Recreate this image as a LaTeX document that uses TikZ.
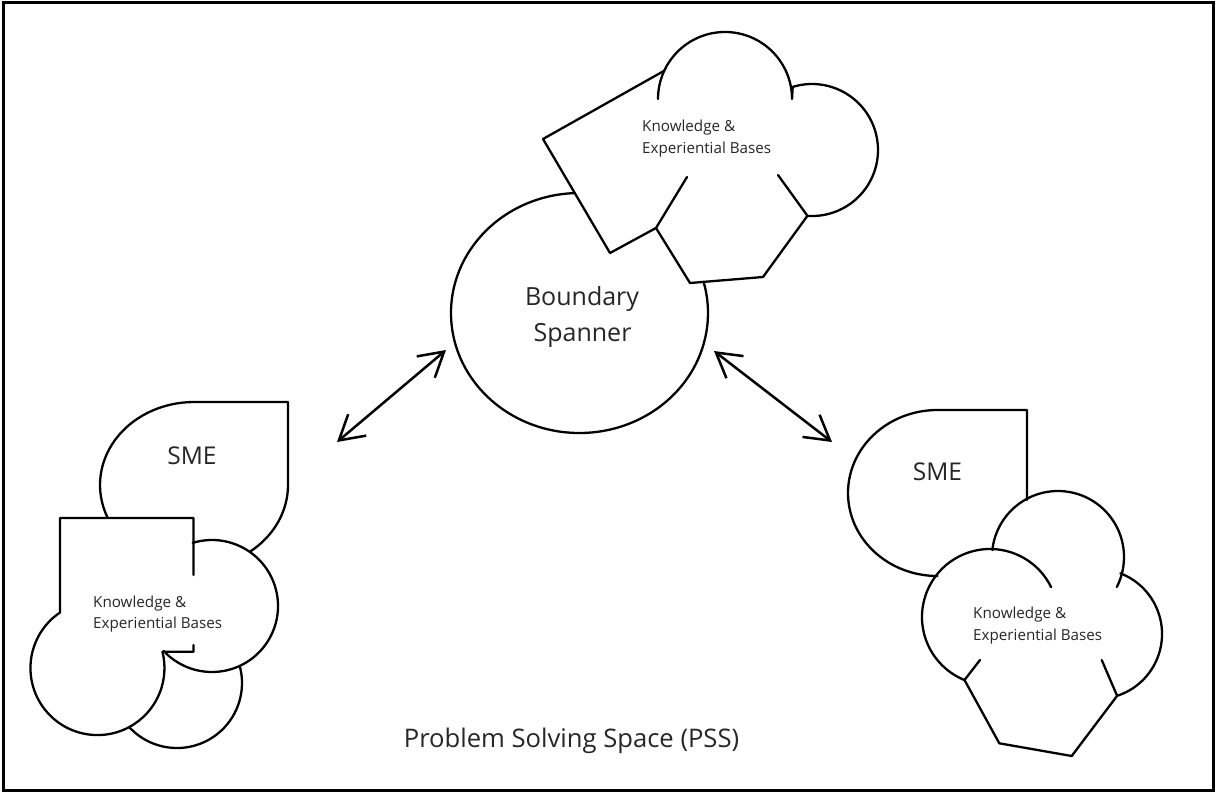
\documentclass[tikz,border=0pt]{standalone}
\usepackage{fontspec}
\setmainfont{Open Sans}
\usetikzlibrary{arrows.meta}
\begin{document}
\begin{tikzpicture}[x=1pt,y=-1pt,
  outline/.style={line width=2.3pt, line join=round, line cap=round},
  link/.style={line width=2.5pt,
    {Straight Barb[length=24pt,width=28pt]}-{Straight Barb[length=24pt,width=28pt]}},
  kb/.style={font=\fontsize{15.2}{18}\selectfont, inner sep=0pt, anchor=base west, text=black!85},
  big/.style={font=\fontsize{25}{30}\selectfont, inner sep=0pt, anchor=base, text=black!85},
  sme/.style={font=\fontsize{24.5}{29}\selectfont, inner sep=0pt, anchor=base, text=black!85},
  pss/.style={font=\fontsize{25.6}{30}\selectfont, inner sep=0pt, anchor=base, text=black!85},
]
\useasboundingbox (0,0) rectangle (1217,793);
% frame
\draw[line width=3.5pt] (3.3,2.7) rectangle (1213.5,790.5);

% ---- centre: boundary spanner with its knowledge cloud ----
\coordinate (bsC) at (579.5,313);
\draw[outline] (bsC) ++(268:128.5 and 120)
  arc[start angle=268, end angle=-15, x radius=128.5, y radius=120];
% tilted square behind the cloud
\draw[outline] (664.3,70.7) -- (543,139) -- (610,253) -- (656,228);
% cloud lobes and hexagonal base
\coordinate (tcTop) at (725,99);
\draw[outline] (tcTop) ++(180:67) arc[start angle=180, end angle=360, radius=67]
  -- (792.7,86.9) arc[start angle=253, end angle=454, radius=66]
  -- (763,277) -- (690,283) -- (656,228) -- (687,177);
\draw[outline] (807.4,215.8) -- (778,175);

% ---- left SME ----
\coordinate (ltC) at (194,485);
\draw[outline] (ltC) ++(157:94 and 83)
  arc[start angle=157, end angle=270, x radius=94, y radius=83]
  -- (288,402) -- (288,485)
  arc[start angle=0, end angle=53, x radius=94, y radius=83];
\draw[outline] (193.5,575) -- (193.5,518) -- (60,518) -- (60,612.5)
  arc[start angle=236, end angle=-14, radius=67] -- (193.5,651.8) -- (193.5,645);
\coordinate (lrC) at (212,606);
\draw[outline] (lrC) ++(253:66) arc[start angle=253, end angle=497, radius=66];
\coordinate (lbC) at (177,683);
\draw[outline] (lbC) ++(137:65) arc[start angle=137, end angle=-14, radius=65];

% ---- right SME ----
\coordinate (rtC) at (937.5,493);
\draw[outline] (rtC) ++(90:89.5 and 83)
  arc[start angle=90, end angle=270, x radius=89.5, y radius=83]
  -- (1027,410) -- (1027,500);
\coordinate (ruC) at (1058,557);
\draw[outline] (ruC) ++(186:66) arc[start angle=186, end angle=387, radius=66];
\coordinate (rlC) at (990,617);
\draw[outline] (rlC) ++(334:68) arc[start angle=334, end angle=112, radius=68]
  -- (999.3,743.3) -- (1071.7,756) -- (1117.1,695.8)
  arc[start angle=72, end angle=-69, radius=65];
\draw[outline] (964.5,680) -- (980,660);
\draw[outline] (1117.1,695.8) -- (1101.7,660);

% ---- labels ----
\node[kb] (kbTopA) at (642,131) {Knowledge \&};
\node[kb] (kbTopB) at (642,153) {Experiential Bases};
\node[kb] (kbLeftA) at (93,607) {Knowledge \&};
\node[kb] (kbLeftB) at (93,628.5) {Experiential Bases};
\node[kb] (kbRightA) at (973,618.3) {Knowledge \&};
\node[kb] (kbRightB) at (973,640.7) {Experiential Bases};
\node[big] (bsA) at (582,305) {Boundary};
\node[big] (bsB) at (582.5,341) {Spanner};
\node[sme] (smeL) at (192,464) {SME};
\node[sme] (smeR) at (937.5,480) {SME};
\node[pss] (pssLabel) at (571.5,747) {Problem Solving Space (PSS)};

% ---- two-way links ----
\coordinate (laA) at (337,442);
\coordinate (laB) at (446,350);
\coordinate (raA) at (714,351);
\coordinate (raB) at (832,442);
\draw[link] (laA) -- (laB);
\draw[link] (raA) -- (raB);
\end{tikzpicture}
\end{document}
